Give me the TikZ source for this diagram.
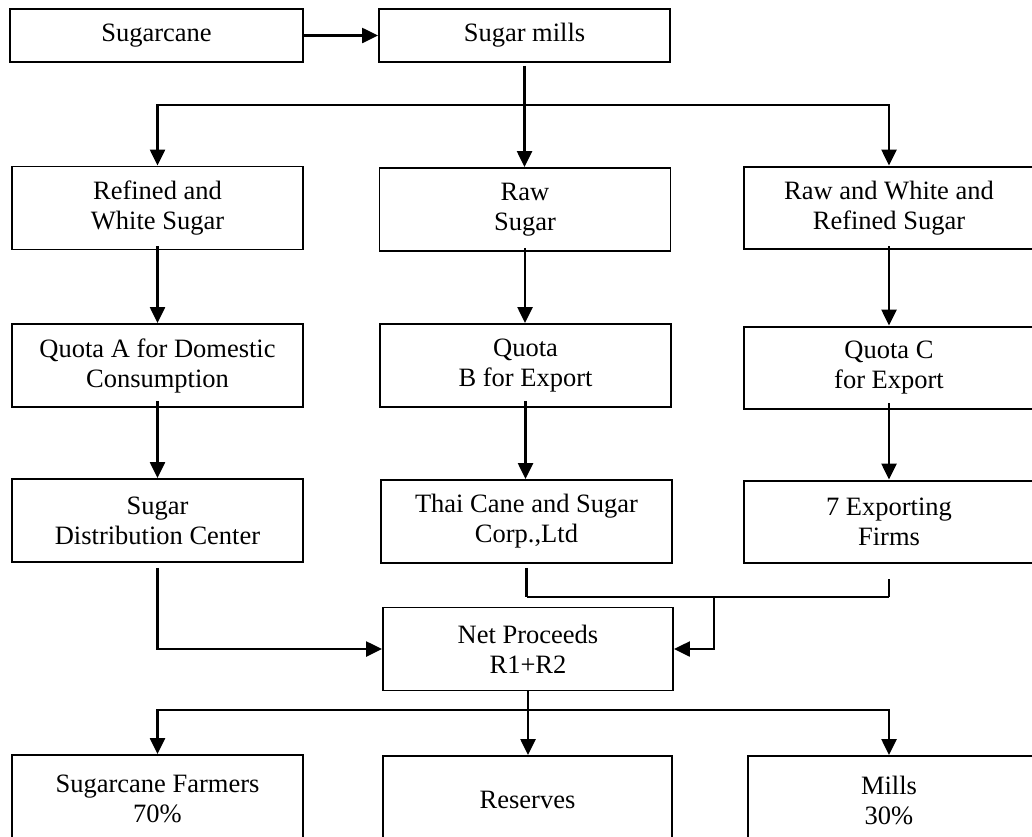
\documentclass[tikz,border=0pt]{standalone}
\usepackage{fontspec}
\setmainfont{Liberation Serif}
\usetikzlibrary{arrows.meta}
\begin{document}
\begin{tikzpicture}[x=1pt,y=-1pt,
  box/.style={draw,line width=1.9pt,rectangle,inner sep=0pt,align=center,
    font=\fontsize{26.5}{30}\selectfont,minimum height=83pt,minimum width=291pt},
  openbox/.style={box,draw=none},
  frame/.style={line width=1.9pt},
  wire/.style={line width=2.4pt},
  arr/.style={wire,-{Triangle[length=16pt,width=15pt]}}]
\useasboundingbox (0,0) rectangle (1032,836);
\clip (0,0) rectangle (1032,836);

% top row
\node[box,minimum height=53pt,minimum width=293pt] (cane) at (156.5,35.5) {Sugarcane};
\node[box,minimum height=53pt] (mills) at (524.5,35.5) {Sugar mills};

% sugar types (right-hand boxes run off the page edge)
\node[box] (rws) at (157.5,208) {Refined and\\White Sugar};
\node[box] (raw) at (525,209.5) {Raw\\Sugar};
\node[openbox] (rwr) at (889,208) {Raw and White and\\Refined Sugar};
\draw[frame] (744,167) rectangle (1045,249);

% quotas
\node[box] (qa) at (157.5,365.5) {Quota A for Domestic\\Consumption};
\node[box] (qb) at (525.5,365.5) {Quota\\B for Export};
\node[openbox] (qc) at (889,368) {Quota C\\for Export};
\draw[frame] (744,327) rectangle (1045,409);

% handlers
\node[box] (sdc) at (157.5,520.5) {Sugar\\Distribution Center};
\node[box] (tcs) at (526.5,521.5) {Thai Cane and Sugar\\Corp.,Ltd};
\node[openbox] (ef) at (889,522) {7 Exporting\\Firms};
\draw[frame] (744,481) rectangle (1045,563);

% proceeds
\node[box,minimum width=290pt] (net) at (528,649) {Net Proceeds\\R1+R2};

% shares
\node[box,minimum height=88pt] (farm) at (157.5,799) {Sugarcane Farmers\\70\%};
\node[box,minimum height=88pt,minimum width=289pt] (res) at (527.5,800) {Reserves};
\node[openbox,minimum height=88pt] (mil) at (889,800) {Mills\\30\%};
\draw[frame] (748,756) rectangle (1045,850);

% connectors
\draw[arr] (cane.east) -- (mills.west);

\coordinate (s1) at (524.5,105);
\draw[wire,shorten <=3pt] (mills.south) -- (s1);
\draw[arr] (s1) -| (rws.north);
\draw[arr] (s1) -| (rwr.north);
\draw[arr] (s1) -- (s1 |- raw.north);

\draw[arr,shorten <=-4pt] (rws.south) -- (qa.north);
\draw[arr,shorten <=-4pt] (raw.south) -- (raw.south |- qb.north);
\draw[arr,shorten <=-4pt] (rwr.south) -- (qc.north);

\draw[arr,shorten <=-7pt] (qa.south) -- (sdc.north);
\draw[arr,shorten <=-7pt] (qb.south) -- (qb.south |- tcs.north);
\draw[arr,shorten <=-7pt] (qc.south) -- (ef.north);

\draw[arr,shorten <=5pt] (sdc.south) |- (net.west);

\coordinate (j1) at (526.5,597);
\coordinate (j2) at (889,597);
\coordinate (jm) at (714,597);
\draw[wire,shorten <=4pt] (tcs.south) -- (j1);
\draw[wire,shorten <=15pt] (ef.south) -- (j2);
\draw[wire] (j1) -- (j2);
\draw[arr] (jm) |- (net.east);

\coordinate (s2) at (528,710);
\draw[wire] (net.south) -- (s2);
\draw[arr] (s2) -| (farm.north);
\draw[arr] (s2) -| (mil.north);
\draw[arr] (s2) -- (s2 |- res.north);
\end{tikzpicture}
\end{document}
